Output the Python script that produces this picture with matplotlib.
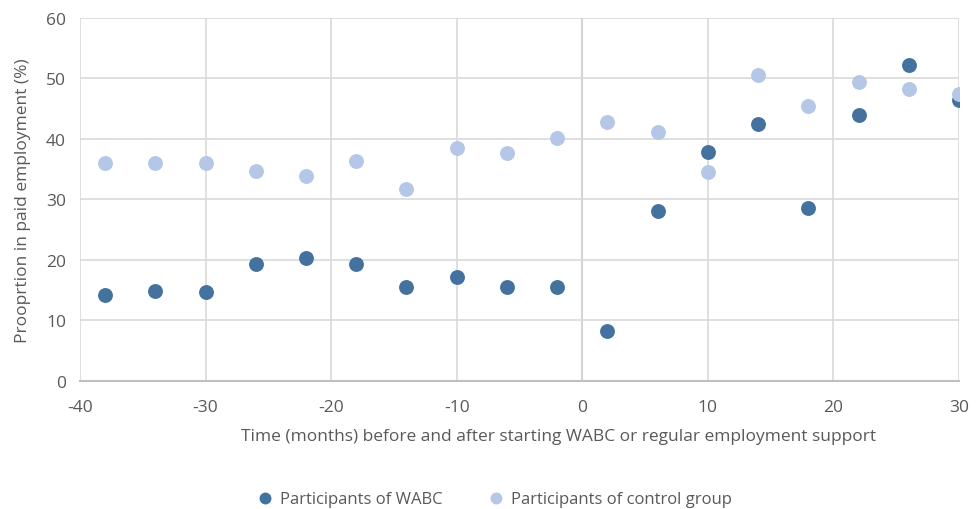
import matplotlib.pyplot as plt

#Datos
meses = [-38, -34, -30, -26, -22, -18, -14, -10, -6, -2, 2, 6, 10, 14, 18, 22, 26, 30]
wabc = [14.2, 14.8, 14.7, 19.4, 20.3, 19.4, 15.6, 17.2, 15.6, 15.6,
        8.2, 28.1, 37.8, 42.4, 28.6, 43.9, 52.2, 46.4]
control = [36.1, 36.1, 36.1, 34.7, 33.9, 36.3, 31.8, 38.5, 37.7, 40.1,
           42.8, 41.2, 34.6, 50.6, 45.5, 49.4, 48.2, 47.4]

oscuro = '#44729F'
claro = '#B4C7E7'
texto = '#595959'

plt.rcParams['font.family'] = ['Open Sans', 'DejaVu Sans']
plt.rcParams['axes.unicode_minus'] = False

fig = plt.figure(figsize=(9.8, 5.1), dpi=100)
ax = fig.add_axes([0.0816, 0.251, 0.897, 0.712])

ax.scatter(meses, wabc, s=115, color=oscuro, zorder=3, label='Participants of WABC', linewidths=0)
ax.scatter(meses, control, s=115, color=claro, zorder=3, label='Participants of control group', linewidths=0)

ax.set_xlim(-40, 30)
ax.set_ylim(0, 60)
ax.set_xticks(range(-40, 31, 10))
ax.set_yticks(range(0, 61, 10))
ax.grid(True, color='#D9D9D9', linewidth=1.2, zorder=0)
ax.axvline(0, color='#BFBFBF', linewidth=1.5, zorder=1)

for s in ['top', 'right', 'left']:
    ax.spines[s].set_visible(False)
ax.spines['bottom'].set_color('#BFBFBF')
ax.spines['bottom'].set_linewidth(1.5)
ax.tick_params(length=0, labelsize=12.5, labelcolor=texto)
ax.tick_params(axis='x', pad=13)
ax.tick_params(axis='y', pad=10)

ax.set_xlabel('Time (months) before and after starting WABC or regular employment support',
              fontsize=12.5, color=texto, labelpad=10)
ax.xaxis.set_label_coords(0.544, -0.13)
ax.set_ylabel('Prooprtion in paid employment (%)', fontsize=12.5, color=texto)
ax.yaxis.set_label_coords(-0.056, 0.5)

fig.legend(loc='lower center', bbox_to_anchor=(0.5, -0.025), ncol=2, frameon=False,
           fontsize=12, labelcolor=texto, handletextpad=-0.1, columnspacing=2.2,
           markerscale=0.8)

fig.savefig('out.png', dpi=100)
